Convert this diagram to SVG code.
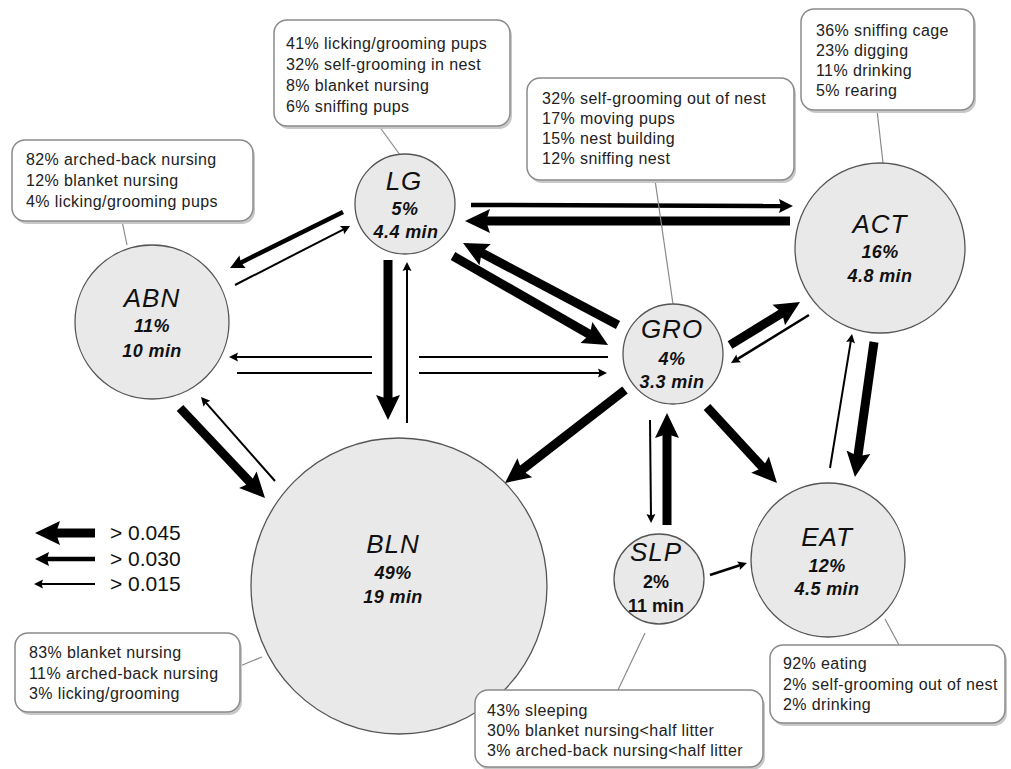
<svg xmlns="http://www.w3.org/2000/svg" width="1011" height="769" viewBox="0 0 1011 769">
<style>
.bg{fill:#fff}
.node{fill:#e9e9e9;stroke:#555;stroke-width:1.3}
.box{fill:#fff;stroke:#8a8a8a;stroke-width:1.5}
.shadow{fill:#c8c8c8}
.lead{stroke:#8a8a8a;stroke-width:1.2;fill:none}
.bt{font-family:"Liberation Sans",Arial,sans-serif;font-size:16px;fill:#222;letter-spacing:0.4px}
.nm{font-family:"Liberation Sans",Arial,sans-serif;font-size:26px;font-style:italic;fill:#111;text-anchor:middle;letter-spacing:1px}
.nv{font-family:"Liberation Sans",Arial,sans-serif;font-size:18px;font-style:italic;font-weight:bold;fill:#111;text-anchor:middle;letter-spacing:0.4px}
.nvu{font-family:"Liberation Sans",Arial,sans-serif;font-size:18px;font-weight:bold;fill:#111;text-anchor:middle}
.lg{font-family:"Liberation Sans",Arial,sans-serif;font-size:21px;fill:#111}
.a3{stroke:#000;stroke-width:9;fill:none;marker-end:url(#h3)}
.a2{stroke:#000;stroke-width:4.5;fill:none;marker-end:url(#h2)}
.a1{stroke:#000;stroke-width:2;fill:none;marker-end:url(#h1)}
.a1s{stroke:#000;stroke-width:2;fill:none}
</style>
<defs>
<marker id="h3" markerUnits="userSpaceOnUse" orient="auto" markerWidth="26" markerHeight="26" refX="11" refY="0" overflow="visible"><path d="M0,-12 L25,0 L0,12 L4,0 Z" fill="#000"/></marker>
<marker id="h2" markerUnits="userSpaceOnUse" orient="auto" markerWidth="15" markerHeight="15" refX="6" refY="0" overflow="visible"><path d="M0,-7 L14,0 L0,7 L2,0 Z" fill="#000"/></marker>
<marker id="h1" markerUnits="userSpaceOnUse" orient="auto" markerWidth="10" markerHeight="10" refX="4" refY="0" overflow="visible"><path d="M0,-4.5 L9,0 L0,4.5 L1.5,0 Z" fill="#000"/></marker>
</defs>
<rect class="bg" x="0" y="0" width="1011" height="769"/>

<g id="connectors">
<line class="a2" x1="343" y1="212" x2="237.2" y2="264.4"/>
<line class="a1" x1="235" y1="285" x2="345.6" y2="228.3"/>
<line class="a2" x1="471" y1="205" x2="785" y2="206"/>
<line class="a3" x1="790" y1="221" x2="479" y2="221"/>
<line class="a3" x1="453" y1="256" x2="595.9" y2="338"/>
<line class="a3" x1="618" y1="325" x2="475.4" y2="249.5"/>
<line class="a3" x1="388" y1="260" x2="388" y2="406"/>
<line class="a1" x1="407" y1="423" x2="407" y2="267"/>
<line class="a1s" x1="608" y1="357" x2="419" y2="357"/>
<line class="a1" x1="372" y1="357" x2="234" y2="357"/>
<line class="a1s" x1="237" y1="373" x2="372" y2="373"/>
<line class="a1" x1="419" y1="373" x2="602" y2="373"/>
<line class="a3" x1="180" y1="408" x2="255.4" y2="487.8"/>
<line class="a1" x1="275" y1="481" x2="204.3" y2="400.8"/>
<line class="a3" x1="625" y1="390" x2="516.1" y2="474.4"/>
<line class="a3" x1="730" y1="345" x2="788.1" y2="309.3"/>
<line class="a1" x1="809" y1="315" x2="735.3" y2="360.4" style="stroke-width:2.5"/>
<line class="a3" x1="707" y1="407" x2="767.5" y2="472.7"/>
<line class="a1" x1="830" y1="468" x2="851.2" y2="338.9"/>
<line class="a3" x1="874" y1="342" x2="856.9" y2="463.1"/>
<line class="a1" x1="650" y1="420" x2="651" y2="518"/>
<line class="a3" x1="667" y1="525" x2="667" y2="427"/>
<line class="a1" x1="710" y1="575" x2="742.2" y2="564.5" style="stroke-width:2.5"/>
</g>

<g id="node-LG">
<line class="lead" x1="379" y1="126" x2="400" y2="155"/>
<rect class="shadow" x="276" y="23" width="236" height="106" rx="13"/>
<rect class="box" x="274" y="20" width="236" height="106" rx="13"/>
<text class="bt" x="286" y="49">41% licking/grooming pups</text>
<text class="bt" x="286" y="70">32% self-grooming in nest</text>
<text class="bt" x="286" y="91">8% blanket nursing</text>
<text class="bt" x="286" y="112">6% sniffing pups</text>
<circle class="node" cx="405" cy="204" r="50"/>
<text class="nm" x="404" y="190">LG</text>
<text class="nv" x="405" y="215">5%</text>
<text class="nv" x="406" y="238">4.4 min</text>
</g>

<g id="node-ABN">
<line class="lead" x1="122" y1="221" x2="127" y2="245"/>
<rect class="shadow" x="14" y="143" width="241" height="81" rx="13"/>
<rect class="box" x="12" y="140" width="241" height="81" rx="13"/>
<text class="bt" x="26" y="165">82% arched-back nursing</text>
<text class="bt" x="26" y="186">12% blanket nursing</text>
<text class="bt" x="26" y="207">4% licking/grooming pups</text>
<circle class="node" cx="152" cy="322" r="77"/>
<text class="nm" x="152" y="307">ABN</text>
<text class="nv" x="152" y="332">11%</text>
<text class="nv" x="152" y="357">10 min</text>
</g>

<g id="node-BLN">
<line class="lead" x1="240" y1="666" x2="262" y2="657"/>
<rect class="shadow" x="17" y="636" width="225" height="79" rx="13"/>
<rect class="box" x="15" y="633" width="225" height="79" rx="13"/>
<text class="bt" x="29" y="658">83% blanket nursing</text>
<text class="bt" x="29" y="679">11% arched-back nursing</text>
<text class="bt" x="29" y="699">3% licking/grooming</text>
<circle class="node" cx="399" cy="586" r="148"/>
<text class="nm" x="393" y="553">BLN</text>
<text class="nv" x="393" y="579">49%</text>
<text class="nv" x="393" y="603">19 min</text>
</g>

<g id="node-GRO">
<line class="lead" x1="655" y1="180" x2="673" y2="304"/>
<rect class="shadow" x="529" y="81" width="267" height="102" rx="13"/>
<rect class="box" x="527" y="78" width="267" height="102" rx="13"/>
<text class="bt" x="542" y="104">32% self-grooming out of nest</text>
<text class="bt" x="542" y="124">17% moving pups</text>
<text class="bt" x="542" y="144">15% nest building</text>
<text class="bt" x="542" y="164">12% sniffing nest</text>
<circle class="node" cx="673" cy="354" r="50"/>
<text class="nm" x="672" y="338">GRO</text>
<text class="nv" x="672" y="365">4%</text>
<text class="nv" x="672" y="388">3.3 min</text>
</g>

<g id="node-ACT">
<line class="lead" x1="877" y1="110" x2="883" y2="163"/>
<rect class="shadow" x="803" y="12" width="173" height="101" rx="13"/>
<rect class="box" x="801" y="9" width="173" height="101" rx="13"/>
<text class="bt" x="816" y="36">36% sniffing cage</text>
<text class="bt" x="816" y="56">23% digging</text>
<text class="bt" x="816" y="76">11% drinking</text>
<text class="bt" x="816" y="96">5% rearing</text>
<circle class="node" cx="880" cy="248" r="85"/>
<text class="nm" x="880" y="233">ACT</text>
<text class="nv" x="880" y="258">16%</text>
<text class="nv" x="880" y="282">4.8 min</text>
</g>

<g id="node-EAT">
<line class="lead" x1="885" y1="619" x2="899" y2="645"/>
<rect class="shadow" x="772" y="648" width="235" height="78" rx="13"/>
<rect class="box" x="770" y="645" width="235" height="78" rx="13"/>
<text class="bt" x="783" y="669">92% eating</text>
<text class="bt" x="783" y="690">2% self-grooming out of nest</text>
<text class="bt" x="783" y="710">2% drinking</text>
<circle class="node" cx="828" cy="560" r="77"/>
<text class="nm" x="827" y="546">EAT</text>
<text class="nv" x="827" y="572">12%</text>
<text class="nv" x="827" y="595">4.5 min</text>
</g>

<g id="node-SLP">
<line class="lead" x1="618" y1="690" x2="645" y2="633"/>
<rect class="shadow" x="477" y="693" width="288" height="77" rx="13"/>
<rect class="box" x="475" y="690" width="288" height="77" rx="13"/>
<text class="bt" x="487" y="716">43% sleeping</text>
<text class="bt" x="487" y="736">30% blanket nursing&lt;half litter</text>
<text class="bt" x="487" y="756">3% arched-back nursing&lt;half litter</text>
<circle class="node" cx="659" cy="579" r="45"/>
<text class="nm" x="656" y="561">SLP</text>
<text class="nvu" x="656" y="588">2%</text>
<text class="nvu" x="656" y="612">11 min</text>
</g>

<g id="legend">
<line class="a3" x1="95" y1="533" x2="49" y2="533"/>
<line class="a2" x1="95" y1="559" x2="43" y2="559"/>
<line class="a1" x1="95" y1="584" x2="39" y2="584"/>
<text class="lg" x="110" y="540">&gt; 0.045</text>
<text class="lg" x="110" y="566">&gt; 0.030</text>
<text class="lg" x="110" y="591">&gt; 0.015</text>
</g>
</svg>
